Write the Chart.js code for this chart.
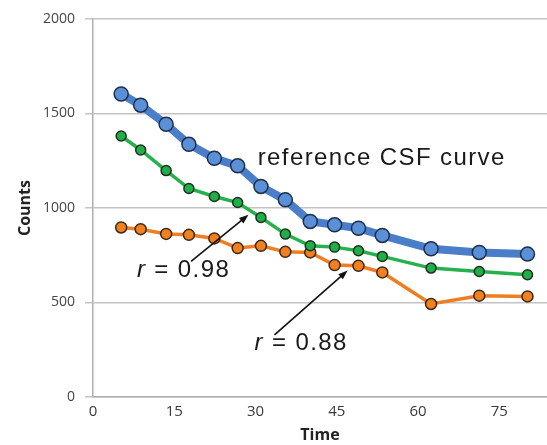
<!DOCTYPE html>
<html>
<head>
<meta charset="utf-8">
<script src="https://cdn.jsdelivr.net/npm/chart.js@4"></script>
<style>
  html, body { margin: 0; padding: 0; background: #fff; overflow: hidden; }
  #wrap { width: 547px; height: 445px; position: relative; }
</style>
</head>
<body>
<div id="wrap"><canvas id="chart"></canvas></div>
<script>
// sample times (x)
const times = [5.2, 8.8, 13.5, 17.7, 22.4, 26.7, 31.0, 35.5, 40.1, 44.6, 49.0, 53.4, 62.4, 71.3, 80.2];
const referenceCounts = [1603, 1544, 1443, 1337, 1263, 1223, 1114, 1043, 929, 911, 893, 855, 784, 765, 756];
const greenCounts = [1381, 1307, 1198, 1103, 1061, 1029, 950, 862, 800, 793, 774, 744, 682, 664, 647];
const orangeCounts = [897, 888, 863, 858, 839, 788, 800, 768, 765, 698, 694, 659, 492, 536, 532];
const xTicks = [0, 15, 30, 45, 60, 75];
const yTicks = [0, 500, 1000, 1500, 2000];

const toPoints = (ys) => ys.map((y, i) => ({ x: times[i], y: y }));

// text labels and arrows, given in data units
const annotations = {
    texts: [
        { parts: [{ t: 'reference CSF curve', italic: false }], x: 30.4, y: 1263 },
        { parts: [{ t: 'r', italic: true }, { t: ' = 0.98', italic: false }], x: 8.1, y: 668 },
        { parts: [{ t: 'r', italic: true }, { t: ' = 0.88', italic: false }], x: 29.8, y: 284 }
    ],
    arrows: [
        { from: [18.1, 717], to: [28.7, 964] },
        { from: [33.5, 329], to: [47.0, 669] }
    ]
};

const annotationPlugin = {
    id: 'annotationPlugin',
    afterDatasetsDraw(chart) {
        const ctx = chart.ctx;
        const xs = chart.scales.x, ys = chart.scales.y;
        ctx.save();
        ctx.strokeStyle = '#111';
        ctx.fillStyle = '#111';
        ctx.lineWidth = 1.6;
        annotations.arrows.forEach(a => {
            const x1 = xs.getPixelForValue(a.from[0]), y1 = ys.getPixelForValue(a.from[1]);
            const x2 = xs.getPixelForValue(a.to[0]), y2 = ys.getPixelForValue(a.to[1]);
            const ang = Math.atan2(y2 - y1, x2 - x1);
            const head = 10;
            ctx.beginPath();
            ctx.moveTo(x1, y1);
            ctx.lineTo(x2 - Math.cos(ang) * head * 0.7, y2 - Math.sin(ang) * head * 0.7);
            ctx.stroke();
            ctx.beginPath();
            ctx.moveTo(x2, y2);
            ctx.lineTo(x2 - head * Math.cos(ang - 0.35), y2 - head * Math.sin(ang - 0.35));
            ctx.lineTo(x2 - head * Math.cos(ang + 0.35), y2 - head * Math.sin(ang + 0.35));
            ctx.closePath();
            ctx.fill();
        });
        ctx.textBaseline = 'middle';
        ctx.textAlign = 'left';
        ctx.fillStyle = '#1a1a1a';
        ctx.letterSpacing = '1.4px';
        annotations.texts.forEach(tx => {
            let px = xs.getPixelForValue(tx.x);
            const py = ys.getPixelForValue(tx.y);
            tx.parts.forEach(p => {
                ctx.font = (p.italic ? 'italic ' : '') + '24px "Liberation Sans", Arial, sans-serif';
                ctx.fillText(p.t, px, py);
                px += ctx.measureText(p.t).width;
            });
        });
        ctx.restore();
    }
};

const ctx = document.getElementById('chart').getContext('2d');
new Chart(ctx, {
    type: 'line',
    data: {
        datasets: [
            {
                label: 'reference CSF curve',
                data: toPoints(referenceCounts),
                borderColor: '#4a7ec8',
                borderWidth: 8,
                pointRadius: 7,
                pointBackgroundColor: '#5a90d8',
                pointBorderColor: '#1f2f4a',
                pointBorderWidth: 1.5,
                order: 1
            },
            {
                label: 'r = 0.98',
                data: toPoints(greenCounts),
                borderColor: '#27b14c',
                borderWidth: 3.5,
                pointRadius: 5,
                pointBackgroundColor: '#1fae48',
                pointBorderColor: '#1f2f22',
                pointBorderWidth: 1.5,
                order: 2
            },
            {
                label: 'r = 0.88',
                data: toPoints(orangeCounts),
                borderColor: '#ef7d22',
                borderWidth: 3.5,
                pointRadius: 5.5,
                pointBackgroundColor: '#f2801f',
                pointBorderColor: '#3a2a1a',
                pointBorderWidth: 1.5,
                order: 3
            }
        ]
    },
    options: {
        responsive: true,
        maintainAspectRatio: false,
        animation: false,
        layout: { autoPadding: false, padding: { top: 19, right: 0, left: 16, bottom: 0 } },
        plugins: {
            legend: { display: false },
            tooltip: { enabled: false }
        },
        scales: {
            x: {
                type: 'linear',
                min: 0,
                max: 83.8,
                afterBuildTicks: (axis) => { axis.ticks = xTicks.map(v => ({ value: v })); },
                afterFit: (axis) => { axis.height = 48; },
                grid: { display: false, drawTicks: true, tickLength: 6, color: '#b0b0b0' },
                border: { color: '#b0b0b0', width: 1.5 },
                ticks: { color: '#3a3a3a', font: { size: 15, family: '"Open Sans", sans-serif' }, padding: 0, maxRotation: 0 },
                title: { display: true, text: 'Time', color: '#222', font: { size: 16, weight: 'bold', family: '"Open Sans", sans-serif' }, padding: { top: 2, bottom: 0 } }
            },
            y: {
                min: 0,
                max: 2000,
                afterBuildTicks: (axis) => { axis.ticks = yTicks.map(v => ({ value: v })); },
                afterFit: (axis) => { axis.width = 77; },
                grid: { color: '#c4c4c4', lineWidth: 1.5, tickLength: 8 },
                border: { color: '#b0b0b0', width: 1.5 },
                ticks: { color: '#444', font: { size: 14, family: '"Open Sans", sans-serif' }, padding: 10, callback: (v) => String(v) },
                title: { display: true, text: 'Counts', color: '#222', font: { size: 16, weight: 'bold', family: '"Open Sans", sans-serif' }, padding: { top: 0, bottom: 0 } }
            }
        }
    },
    plugins: [annotationPlugin]
});
</script>
</body>
</html>
